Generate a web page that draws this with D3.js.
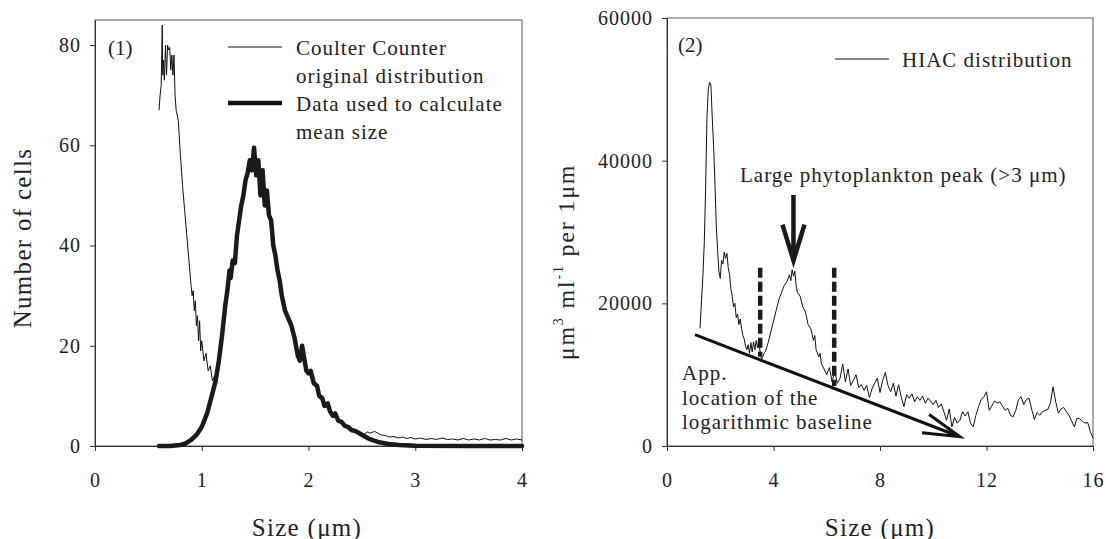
<!DOCTYPE html>
<html>
<head>
<meta charset="utf-8">
<script src="https://cdnjs.cloudflare.com/ajax/libs/d3/7.8.5/d3.min.js"></script>
<style>
  body { margin: 0; background: #fff; }
  svg text { font-family: "Liberation Serif", "Times New Roman", "DejaVu Serif", serif; fill: #222; }
  .tick text { font-size: 20px; letter-spacing: 1px; }
  .tick line { stroke: #333; }
</style>
</head>
<body>
<div id="chart"></div>
<script>
// ---- panel (1): Coulter Counter ----
var coulterSize = [0.60, 0.61, 0.62, 0.625, 0.63, 0.635, 0.64, 0.65, 0.66, 0.67, 0.68, 0.69, 0.70, 0.71, 0.72, 0.73, 0.74, 0.75, 0.76, 0.78,
  0.80, 0.82, 0.84, 0.86, 0.88, 0.90, 0.91, 0.92, 0.93, 0.94, 0.95, 0.96, 0.97, 0.98, 0.99, 1.00, 1.02, 1.04, 1.06, 1.08,
  1.10, 1.12, 1.14, 1.16, 1.19, 1.22, 1.24, 1.26, 1.27, 1.29, 1.31, 1.33, 1.35, 1.37, 1.39, 1.41, 1.43, 1.45, 1.47, 1.49,
  1.51, 1.53, 1.55, 1.57, 1.59, 1.61, 1.63, 1.65, 1.67, 1.69, 1.71, 1.73, 1.75, 1.78, 1.81, 1.84, 1.87, 1.90, 1.92, 1.94,
  1.96, 1.98, 2.00, 2.02, 2.05, 2.08, 2.10, 2.13, 2.15, 2.18, 2.20, 2.23, 2.25, 2.28, 2.31, 2.34, 2.37, 2.40, 2.44, 2.48,
  2.52, 2.55, 2.58, 2.62, 2.68, 2.72, 2.76, 2.80, 2.84, 2.88, 2.92, 2.96, 3.00, 3.05, 3.10, 3.15, 3.20, 3.25, 3.30, 3.35,
  3.40, 3.45, 3.50, 3.55, 3.60, 3.65, 3.70, 3.75, 3.80, 3.85, 3.90, 3.95, 4.00];
var coulterCount = [67, 70, 72, 78, 84, 74, 77, 73, 80, 74, 80, 79, 79.5, 75, 78, 74, 78, 70, 67, 65,
  58, 52, 47, 42, 37, 32, 30, 31, 27, 29, 24, 26, 21, 25, 19, 21, 17, 18.5, 15, 16,
  13, 14, 12.5, 17, 22, 28, 31, 35, 33.5, 37, 36.5, 42, 45, 48, 50, 53, 54.5, 57, 55, 59.5,
  54, 57, 50, 55, 48, 51, 46, 45, 40, 38, 35, 33, 30, 27, 25.5, 24, 21.5, 18, 17, 20,
  17.5, 15, 14.5, 15, 12.5, 12, 10, 9.5, 8, 8.5, 7, 6, 6.5, 5, 4.8, 4, 3.8, 3.2, 3, 2.6,
  2.3, 2.8, 2.6, 2.9, 2.2, 2.1, 1.8, 1.9, 1.6, 1.8, 1.5, 1.7, 1.4, 1.6, 1.3, 1.5, 1.3, 1.6, 1.3, 1.4,
  1.2, 1.5, 1.2, 1.4, 1.2, 1.5, 1.2, 1.3, 1.2, 1.5, 1.2, 1.4, 1.2];

var meanSize = [0.60, 0.70, 0.80, 0.85, 0.90, 0.95, 1.00, 1.05, 1.10, 1.13, 1.16, 1.19, 1.22, 1.24, 1.26, 1.27, 1.29, 1.31, 1.33, 1.35,
  1.37, 1.39, 1.41, 1.43, 1.45, 1.47, 1.49, 1.51, 1.53, 1.55, 1.57, 1.59, 1.61, 1.63, 1.65, 1.67, 1.69, 1.71, 1.73, 1.75,
  1.78, 1.81, 1.84, 1.87, 1.90, 1.92, 1.94, 1.96, 1.98, 2.00, 2.02, 2.05, 2.08, 2.10, 2.13, 2.15, 2.18, 2.20, 2.23, 2.25,
  2.28, 2.31, 2.34, 2.37, 2.40, 2.44, 2.48, 2.52, 2.58, 2.65, 2.75, 2.85, 3.00, 3.50, 4.00];
var meanCount = [0, 0, 0.2, 0.5, 1.2, 2.2, 3.8, 6.5, 10.5, 13, 17, 22, 28, 31, 35, 33.5, 37, 36.5, 42, 45,
  48, 50, 53, 54.5, 57, 55, 59.5, 54, 57, 50, 55, 48, 51, 46, 45, 40, 38, 35, 33, 30,
  27, 25.5, 24, 21.5, 18, 17, 20, 17.5, 15, 14.5, 15, 12.5, 12, 10, 9.5, 8, 8.5, 7, 6, 6.5,
  5, 4.8, 4, 3.8, 3.2, 3, 2.5, 2, 1.3, 0.8, 0.4, 0.2, 0.05, 0, 0];

var leftXTicks = [0, 1, 2, 3, 4];
var leftYTicks = [0, 20, 40, 60, 80];

// ---- panel (2): HIAC ----
var hiacSize = [1.24, 1.35, 1.40, 1.45, 1.50, 1.55, 1.60, 1.65, 1.70, 1.75, 1.80, 1.85, 1.90, 1.95, 2.00, 2.05, 2.10, 2.15, 2.20, 2.25,
  2.30, 2.35, 2.40, 2.45, 2.50, 2.55, 2.60, 2.65, 2.70, 2.75, 2.80, 2.85, 2.90, 2.95, 3.00, 3.05, 3.10, 3.15, 3.20, 3.25,
  3.30, 3.35, 3.40, 3.45, 3.50, 3.55, 3.60, 3.65, 3.70, 3.80, 3.90, 4.00, 4.10, 4.20, 4.30, 4.40, 4.50, 4.60, 4.65, 4.70,
  4.75, 4.80, 4.85, 4.90, 5.00, 5.10, 5.20, 5.30, 5.40, 5.50, 5.55, 5.60, 5.70, 5.75, 5.80, 5.90, 6.00, 6.10, 6.20, 6.30,
  6.40, 6.50, 6.60, 6.70, 6.80, 6.90, 7.00, 7.10, 7.20, 7.30, 7.40, 7.50, 7.60, 7.70, 7.80, 7.90, 8.00, 8.10, 8.20, 8.30,
  8.40, 8.50, 8.60, 8.70, 8.80, 8.90, 9.00, 9.10, 9.20, 9.30, 9.40, 9.50, 9.60, 9.70, 9.80, 9.90, 10.0, 10.1, 10.2, 10.3,
  10.4, 10.5, 10.6, 10.7, 10.8, 10.9, 11.0, 11.1, 11.2, 11.3, 11.4, 11.5, 11.6, 11.7, 11.8, 11.9, 12.0, 12.1, 12.2, 12.3,
  12.4, 12.5, 12.6, 12.7, 12.8, 12.9, 13.0, 13.1, 13.2, 13.3, 13.4, 13.5, 13.6, 13.7, 13.8, 13.9, 14.0, 14.1, 14.2, 14.3,
  14.4, 14.5, 14.6, 14.7, 14.8, 14.9, 15.0, 15.1, 15.2, 15.3, 15.4, 15.5, 15.6, 15.7, 15.8, 15.9, 16.0];
var hiacVolume = [16500, 24000, 28500, 36000, 46000, 50000, 51000, 50500, 46000, 42000, 37000, 31000, 27500, 24500, 23500, 26000, 25500, 27200, 26300, 27000,
  25000, 24000, 22000, 21000, 19500, 20000, 18000, 18500, 17000, 17800, 16500, 15500, 15000, 14000, 13500, 14200, 13000, 14500, 13200, 14600,
  13500, 14800, 13800, 15000, 13000, 12200, 12500, 13000, 13300, 14500, 16000, 17500, 19000, 20500, 21500, 22500, 23000, 24000, 23200, 24700,
  23800, 24500, 22500, 21500, 21000, 19500, 18800, 17000, 16500, 14800, 15500, 13500, 12500, 13000, 11500, 10800, 10000, 11000, 9000, 10500,
  8800, 9500, 11500, 9000, 10800, 8500, 9200, 10000, 8200, 8600, 7800, 8500, 6800, 8000, 8800, 9500, 7500, 9200, 10300, 8500,
  7600, 8800, 7000, 8600, 6800, 5500, 7200, 6700, 7300, 6200, 6900, 6400, 7000, 6000, 6700, 6300, 5800, 6400, 5400, 5900,
  4800, 3600, 5200, 2700, 4000, 3200, 3600, 4800, 4200, 4800, 3200, 2700, 4300, 5500, 6500, 6900, 7600, 5000, 5600, 6300,
  6000, 6200, 5600, 5000, 5300, 4300, 4100, 5000, 6500, 6900, 5800, 6500, 6700, 5100, 3700, 4700, 4300, 4800, 5000, 5100,
  6000, 8300, 6200, 4600, 5200, 5400, 4800, 4300, 3500, 2700, 3900, 3800, 3500, 3200, 3300, 2000, 1100];

var rightXTicks = [0, 4, 8, 12, 16];
var rightYTicks = [0, 20000, 40000, 60000];

// annotation marks in data units [size, volume]
var baselineStart = [1.05, 15600];
var baselineEnd = [11.0, 1300];
var peakBounds = [[3.5, 25000, 12500], [6.28, 25000, 8400]];   // x, top, bottom
var peakArrow = [4.75, 35200, 26000];                             // x, from, to

var svg = d3.select("#chart")
  .append("svg")
  .attr("width", 1106)
  .attr("height", 539);

var line = function(x, y) {
  return d3.line().x(d => x(d[0])).y(d => y(d[1]));
};

// draw frame + axes for one panel
function drawFrame(x, y, xTicks, yTicks) {
  var x0 = x.range()[0], x1 = x.range()[1];
  var y0 = y.range()[0], y1 = y.range()[1];

  svg.append("rect")
    .attr("x", x0).attr("y", y1)
    .attr("width", x1 - x0).attr("height", y0 - y1)
    .attr("fill", "none")
    .attr("stroke", "#555")
    .attr("stroke-width", 1);

  var gx = svg.append("g")
    .attr("transform", `translate(0, ${y0})`)
    .call(d3.axisBottom(x).tickValues(xTicks).tickFormat(d3.format("d"))
      .tickSize(5).tickSizeOuter(0).tickPadding(22));
  gx.select(".domain").attr("stroke", "#333");

  var gy = svg.append("g")
    .attr("transform", `translate(${x0}, 0)`)
    .call(d3.axisLeft(y).tickValues(yTicks).tickFormat(d3.format("d"))
      .tickSize(5).tickSizeOuter(0).tickPadding(9));
  gy.select(".domain").attr("stroke", "#333");
}

// ---------- panel 1 ----------
var x1 = d3.scaleLinear().domain([0, 4]).range([95, 522]);
var y1 = d3.scaleLinear().domain([0, 85]).range([446, 20]);

drawFrame(x1, y1, leftXTicks, leftYTicks);

svg.append("path")
  .datum(d3.zip(coulterSize, coulterCount))
  .attr("d", line(x1, y1))
  .attr("fill", "none")
  .attr("stroke", "#111")
  .attr("stroke-width", 1);

svg.append("path")
  .datum(d3.zip(meanSize, meanCount))
  .attr("d", line(x1, y1))
  .attr("fill", "none")
  .attr("stroke", "#1a1a1a")
  .attr("stroke-width", 4.5)
  .attr("stroke-linejoin", "round")
  .attr("stroke-linecap", "round");

svg.append("text").attr("x", 108).attr("y", 48)
  .attr("dominant-baseline", "central")
  .style("font-size", "21px")
  .text("(1)");

// legend
var leg1 = [
  {w: 1, lines: ["Coulter Counter", "original distribution"], y: 48},
  {w: 4.5, lines: ["Data used to calculate", "mean size"], y: 104}
];
leg1.forEach(function(d) {
  svg.append("line")
    .attr("x1", 228).attr("x2", 282)
    .attr("y1", d.y - 1).attr("y2", d.y - 1)
    .attr("stroke", "#111")
    .attr("stroke-width", d.w);
  d.lines.forEach(function(t, i) {
    svg.append("text")
      .attr("x", 296).attr("y", d.y + i * 28)
      .attr("dominant-baseline", "central")
      .style("font-size", "21px")
      .style("letter-spacing", "1px")
      .text(t);
  });
});

// axis titles
svg.append("text")
  .attr("transform", "translate(22, 238) rotate(-90)")
  .attr("text-anchor", "middle")
  .attr("dominant-baseline", "central")
  .style("font-size", "25px")
  .style("letter-spacing", "1.3px")
  .text("Number of cells");

svg.append("text")
  .attr("x", 307).attr("y", 527)
  .attr("text-anchor", "middle")
  .attr("dominant-baseline", "central")
  .style("font-size", "25px")
  .style("letter-spacing", "1.3px")
  .text("Size (\u03bcm)");

// ---------- panel 2 ----------
var x2 = d3.scaleLinear().domain([0, 16]).range([667, 1093]);
var y2 = d3.scaleLinear().domain([0, 60000]).range([446, 18]);

drawFrame(x2, y2, rightXTicks, rightYTicks);

svg.append("path")
  .datum(d3.zip(hiacSize, hiacVolume))
  .attr("d", line(x2, y2))
  .attr("fill", "none")
  .attr("stroke", "#111")
  .attr("stroke-width", 1);

// dashed bounds of the large phytoplankton peak
svg.selectAll(".bound")
  .data(peakBounds)
  .enter()
  .append("line")
  .attr("class", "bound")
  .attr("x1", d => x2(d[0])).attr("x2", d => x2(d[0]))
  .attr("y1", d => y2(d[1])).attr("y2", d => y2(d[2]))
  .attr("stroke", "#1a1a1a")
  .attr("stroke-width", 4.5)
  .attr("stroke-dasharray", "10,4");

// downward arrow on the peak
var ax = x2(peakArrow[0]), ayTop = y2(peakArrow[1]), ayTip = y2(peakArrow[2]);
svg.append("path")
  .attr("d", `M${ax},${ayTop} L${ax},${ayTip} M${ax - 11},${ayTip - 36} L${ax},${ayTip} L${ax + 11},${ayTip - 36}`)
  .attr("fill", "none")
  .attr("stroke", "#1a1a1a")
  .attr("stroke-width", 4.5)
  .attr("stroke-linejoin", "miter");

// logarithmic baseline with an open arrow head
var bx0 = x2(baselineStart[0]), by0 = y2(baselineStart[1]);
var bx1 = x2(baselineEnd[0]), by1 = y2(baselineEnd[1]);
var ang = Math.atan2(by1 - by0, bx1 - bx0) + Math.PI;
var hl = 38, spread = 0.26;
svg.append("path")
  .attr("d", `M${bx0},${by0} L${bx1},${by1}` +
    ` M${bx1 + hl * Math.cos(ang - spread)},${by1 + hl * Math.sin(ang - spread)} L${bx1},${by1}` +
    ` L${bx1 + hl * Math.cos(ang + spread)},${by1 + hl * Math.sin(ang + spread)}`)
  .attr("fill", "none")
  .attr("stroke", "#111")
  .attr("stroke-width", 3);

svg.append("text").attr("x", 678).attr("y", 45)
  .attr("dominant-baseline", "central")
  .style("font-size", "21px")
  .text("(2)");

// legend
svg.append("line")
  .attr("x1", 835).attr("x2", 889)
  .attr("y1", 59).attr("y2", 59)
  .attr("stroke", "#111")
  .attr("stroke-width", 1);
svg.append("text")
  .attr("x", 902).attr("y", 60)
  .attr("dominant-baseline", "central")
  .style("font-size", "21px")
  .style("letter-spacing", "1px")
  .text("HIAC distribution");

svg.append("text")
  .attr("x", 740).attr("y", 175)
  .attr("dominant-baseline", "central")
  .style("font-size", "21px")
  .style("letter-spacing", "1px")
  .text("Large phytoplankton peak (>3 \u03bcm)");

["App.", "location of the", "logarithmic baseline"].forEach(function(t, i) {
  svg.append("text")
    .attr("x", 682).attr("y", 373 + i * 24.5)
    .attr("dominant-baseline", "central")
    .style("font-size", "21px")
    .style("letter-spacing", "1px")
    .text(t);
});

// axis titles
var yt2 = svg.append("text")
  .attr("transform", "translate(566, 262) rotate(-90)")
  .attr("text-anchor", "middle")
  .attr("dominant-baseline", "central")
  .style("font-size", "24px")
  .style("letter-spacing", "1.8px");
yt2.append("tspan").text("\u03bcm");
yt2.append("tspan").attr("baseline-shift", "super").style("font-size", "14px").text("3");
yt2.append("tspan").text(" ml");
yt2.append("tspan").attr("baseline-shift", "super").style("font-size", "14px").text("-1");
yt2.append("tspan").text(" per 1\u03bcm");

svg.append("text")
  .attr("x", 880).attr("y", 527)
  .attr("text-anchor", "middle")
  .attr("dominant-baseline", "central")
  .style("font-size", "25px")
  .style("letter-spacing", "1.3px")
  .text("Size (\u03bcm)");
</script>
</body>
</html>
